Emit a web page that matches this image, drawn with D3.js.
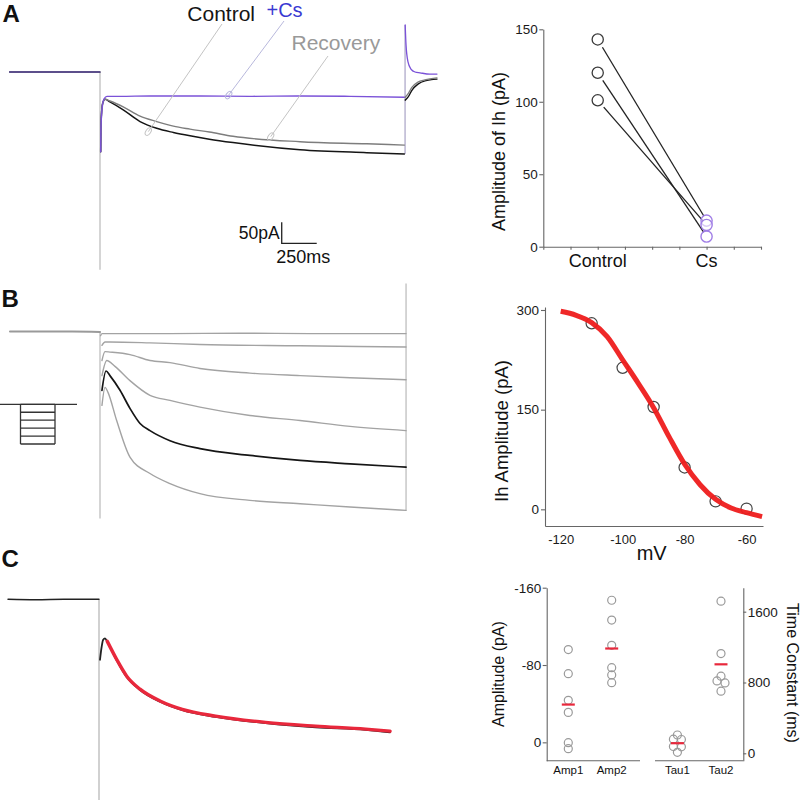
<!DOCTYPE html>
<html><head><meta charset="utf-8">
<script src="https://cdn.jsdelivr.net/npm/d3@7"></script>
<style>
body{margin:0;background:#fff}
svg{display:block}
text{font-family:"Liberation Sans",Arial,Helvetica,sans-serif}
</style>
</head><body>
<svg id="c" width="800" height="800"></svg>
<script>
// ================= DATA =================
// Panel A traces: [time (ms from step onset), current (pA, relative to holding)]
const aBaseline = [[-646,0],[-450,0],[-250,0],[0,0]];
const aControl  = [[5,-190],[7,-126],[18,-76],[36,-65],[71,-71],[166,-90],[286,-118],[405,-134],[524,-144],[643,-152],[781,-160],[950,-168],[1429,-185],[1905,-192],[2174,-195]];
const aRecovery = [[5,-190],[7,-126],[18,-76],[36,-65],[71,-69],[166,-83],[286,-105],[405,-118],[524,-129],[643,-136],[781,-143],[950,-153],[1429,-166],[1905,-171],[2174,-174]];
const aCs       = [[5,-190],[7,-129],[18,-79],[29,-64],[50,-58],[143,-58],[357,-57],[714,-57],[1071,-58],[1429,-57],[1786,-58],[2174,-60]];
const aControlOff  = [[2180,-67],[2200,-60],[2229,-43],[2271,-29],[2321,-21],[2407,-17]];
const aRecoveryOff = [[2180,-60],[2200,-52],[2229,-36],[2271,-24],[2321,-19],[2407,-14]];
const aCsOff       = [[2180,112],[2186,64],[2200,24],[2221,7],[2250,0],[2286,-2],[2357,-5],[2407,-5]];
const aTransients  = [[0,0,-471],[2179,-195,112]];   // [time, from, to]
const scaleBarPA = 50, scaleBarMS = 250;

// Panel A right: amplitude of Ih
const ampCategories = ["Control","Cs"];
const ampControl = [143,120,101];
const ampCs      = [18,7,15];
const ampTicks   = [0,50,100,150];

// Panel B traces
const bBaseline = [[-643,0],[-400,0],[-200,0],[0,-1]];
const bTraces = [
  [[4,-10],[14,-5],[500,-5],[1000,-4],[1500,-5],[2186,-5]],
  [[14,-33],[36,-25],[71,-25],[357,-27],[714,-31],[1429,-34],[2186,-37]],
  [[14,-69],[36,-48],[71,-49],[214,-55],[357,-69],[500,-74],[714,-88],[1071,-99],[1429,-105],[1786,-110],[2186,-115]],
  [[14,-105],[48,-69],[107,-83],[214,-117],[357,-152],[500,-164],[714,-180],[1071,-200],[1429,-212],[1786,-226],[2186,-236]],
  [[14,-140],[43,-94],[71,-105],[143,-140],[214,-183],[286,-219],[357,-236],[500,-260],[714,-279],[1071,-295],[1429,-307],[1786,-315],[2186,-323]],
  [[14,-176],[36,-133],[57,-145],[119,-212],[214,-299],[357,-338],[500,-362],[714,-386],[1071,-402],[1429,-410],[1786,-418],[2186,-426]]
];
const bBlackIndex = 4;
const bTransients = [[0,0,-445],[2186,114,-426]];
const stepVoltages = [-60,-70,-80,-90,-100,-110];

// Panel B right: I-V
const ivVoltage = [-110,-100,-90,-80,-70,-60];
const ivAmp     = [280,213,154,63,12,1];
const ivFitV    = [-120,-115,-110,-105,-100,-95,-90,-85,-80,-75,-70,-65,-60,-55];
const ivFitI    = [298,292,281,260,225,190,153,109,68,37,15,2,-5,-11];
const ivXTicks  = [-120,-100,-80,-60];
const ivYTicks  = [0,150,300];

// Panel C traces
const cBaseline = [[-650,0],[-450,-1],[-250,0],[0,0]];
const cTrace = [[7,-144],[19,-113],[29,-97],[43,-93],[59,-101],[126,-145],[198,-185],[293,-216],[436,-244],[595,-264],[833,-280],[1190,-295],[1548,-305],[1905,-311],[2079,-317]];
const cFit   = [[59,-100],[126,-143],[198,-183],[293,-214],[436,-242],[595,-262],[833,-278],[1190,-293],[1548,-302],[1905,-309],[2079,-314]];

// Panel C right: kinetics
const kinCategories = ["Amp1","Amp2","Tau1","Tau2"];
const amp1 = [-96,-71,-43.5,-31,0.4,6.6];
const amp2 = [-147,-126.5,-100.4,-77.2,-69.7,-61.7];
const tau1 = [207,160,156,77,73,11];
const tau2 = [1719,1127,871,818,795,702];
const kinAmpTicks = [-160,-80,0];
const kinTauTicks = [0,800,1600];

// ================= DRAWING =================
const svg = d3.select("#c");
svg.append("rect").attr("width",800).attr("height",800).attr("fill","#fff");

const COL = {black:"#151515", gray:"#8a8a8a", lgray:"#b9b9b9", purple:"#7b52d8", cs:"#3a3ad2", csCircle:"#a07ee6", red:"#ee1c1c", axis:"#666"};

function trace(g, data, x, y, color, w){
  return g.append("path").datum(data)
    .attr("d", d3.line().x(d=>x(d[0])).y(d=>y(d[1])).curve(d3.curveMonotoneX))
    .attr("fill","none").attr("stroke",color).attr("stroke-width",w)
    .attr("stroke-linejoin","round").attr("stroke-linecap","round");
}
function vline(g, x, y0, y1, color, w){
  g.append("line").attr("x1",x).attr("x2",x).attr("y1",y0).attr("y2",y1)
   .attr("stroke",color).attr("stroke-width",w);
}
function label(g, x, y, txt, size, opts={}){
  const t = g.append("text").attr("x",x).attr("y",y).text(txt).attr("font-size",size)
    .attr("fill",opts.fill||"#111").attr("text-anchor",opts.anchor||"start");
  if(opts.weight) t.attr("font-weight",opts.weight);
  if(opts.rotate!==undefined) t.attr("transform",`rotate(${opts.rotate},${x},${y})`);
  return t;
}
function styleAxis(g, size){
  g.attr("font-family",null).attr("font-size",null);
  g.selectAll("path,line").attr("stroke",COL.axis).attr("stroke-width",1.1);
  g.selectAll("text").attr("font-size",size).attr("fill","#1a1a1a");
}
const plain = d => String(d).replace("−","-");

// Panel letters
label(svg, 2.5, 21.7, "A", 24, {weight:"bold"});
label(svg, 1.5, 306.7, "B", 24, {weight:"bold"});
label(svg, 1.5, 567, "C", 24, {weight:"bold"});

// ---------- Panel A left ----------
{
  const g = svg.append("g");
  const x = d3.scaleLinear().domain([0,250]).range([100,135]);
  const y = d3.scaleLinear().domain([0,-50]).range([72,93]);
  vline(g, x(aTransients[0][0]), y(aTransients[0][1]), y(aTransients[0][2]), COL.lgray, 1.2);
  vline(g, x(aTransients[1][0]), y(aTransients[1][1]), y(aTransients[1][2]), "#a9a3c6", 1.2);
  trace(g, aBaseline, x, y, COL.black, 1.4);
  trace(g, aBaseline, x, y, "#6a50c8", 1.2);
  trace(g, aControl, x, y, COL.black, 1.5);
  trace(g, aRecovery, x, y, "#7d7d7d", 1.4);
  trace(g, aCs, x, y, COL.purple, 1.4);
  trace(g, aControlOff, x, y, COL.black, 1.4);
  trace(g, aRecoveryOff, x, y, "#7d7d7d", 1.3);
  trace(g, aCsOff, x, y, COL.purple, 1.3);

  // labels + leaders
  label(g, 255, 21, "Control", 21, {anchor:"end", fill:"#151515"});
  label(g, 266.5, 17, "+Cs", 20, {fill:COL.cs});
  label(g, 291.5, 50, "Recovery", 21, {fill:"#999"});
  const leaders = [
    {from:[222,24], to:[345,-142], color:"#c4c4c4"},
    {from:[284,21], to:[919,-55], color:"#b8b8dc"},
    {from:[328,56], to:[1219,-154], color:"#c4c4c4"}
  ];
  leaders.forEach(l=>{
    const ex = x(l.to[0]), ey = y(l.to[1]);
    g.append("line").attr("x1",l.from[0]).attr("y1",l.from[1]).attr("x2",ex).attr("y2",ey)
      .attr("stroke",l.color).attr("stroke-width",1);
    const ang = Math.atan2(ey-l.from[1], ex-l.from[0])*180/Math.PI;
    g.append("ellipse").attr("cx",ex).attr("cy",ey).attr("rx",4.2).attr("ry",2.4)
      .attr("transform",`rotate(${ang},${ex},${ey})`)
      .attr("fill","none").attr("stroke",l.color).attr("stroke-width",1);
  });

  // scale bar
  const sbT = 1298, sbI = -408;
  g.append("path").attr("d",`M${x(sbT)},${y(sbI+scaleBarPA)}V${y(sbI)}H${x(sbT+scaleBarMS)}`)
    .attr("fill","none").attr("stroke","#222").attr("stroke-width",1.3);
  label(g, x(sbT)-2, y(sbI)-4.5, scaleBarPA+"pA", 17.5, {anchor:"end"});
  label(g, x(sbT)-5.5, y(sbI)+19.5, scaleBarMS+"ms", 18);
}

// ---------- Panel A right ----------
{
  const g = svg.append("g");
  const x = d3.scaleLinear().domain([-1,7]).range([543.3,761]);
  const y = d3.scaleLinear().domain([0,150]).range([246.7,29.3]);
  const pos = {"Control":1, "Cs":5};
  const ax = g.append("g").attr("transform","translate(0,246.7)")
    .call(d3.axisBottom(x).tickValues(d3.range(-1,8)).tickSize(3).tickSizeOuter(0).tickFormat(()=>""));
  styleAxis(ax, 13);
  const ay = g.append("g").attr("transform","translate(543.3,0)")
    .call(d3.axisLeft(y).tickValues(ampTicks).tickSize(4).tickSizeOuter(0).tickPadding(1.5));
  styleAxis(ay, 13.5);
  ampCategories.forEach(c=> label(g, x(pos[c]), 266.5, c, 18, {anchor:"middle"}));
  label(g, 504.5, 151.5, "Amplitude of Ih (pA)", 18, {anchor:"middle", rotate:-90});

  const r = 5.6;
  ampControl.forEach((v,i)=>{
    const x1 = x(pos.Control), y1 = y(v), x2 = x(pos.Cs), y2 = y(ampCs[i]);
    const L = Math.hypot(x2-x1,y2-y1), ux=(x2-x1)/L, uy=(y2-y1)/L;
    g.append("line").attr("x1",x1+ux*(r+3.5)).attr("y1",y1+uy*(r+3.5))
      .attr("x2",x2-ux*(r-0.5)).attr("y2",y2-uy*(r-0.5))
      .attr("stroke","#222").attr("stroke-width",1.3);
  });
  g.selectAll(".cc").data(ampControl).join("circle").attr("cx",x(pos.Control)).attr("cy",d=>y(d)).attr("r",r)
    .attr("fill","#fff").attr("stroke","#3a3a3a").attr("stroke-width",1.3);
  g.selectAll(".cs").data(ampCs).join("circle").attr("cx",x(pos.Cs)).attr("cy",d=>y(d)).attr("r",r)
    .attr("fill","#fff").attr("fill-opacity",0.6).attr("stroke",COL.csCircle).attr("stroke-width",1.4);
}

// ---------- Panel B left ----------
{
  const g = svg.append("g");
  const x = d3.scaleLinear().domain([0,250]).range([100,135]);
  const y = d3.scaleLinear().domain([0,-50]).range([331.5,352.5]);
  vline(g, x(bTransients[0][0]), y(bTransients[0][1]), y(bTransients[0][2]), COL.lgray, 1.2);
  vline(g, x(bTransients[1][0]), y(bTransients[1][1]), y(bTransients[1][2]), COL.lgray, 1.2);
  trace(g, bBaseline, x, y, "#9a9a9a", 2);
  bTraces.forEach((d,i)=>{ if(i!==bBlackIndex) trace(g, d, x, y, "#a3a3a3", 1.4); });
  trace(g, bTraces[bBlackIndex], x, y, COL.black, 1.7);

  // step protocol icon
  const yi = d3.scaleLinear().domain([stepVoltages[0], stepVoltages[stepVoltages.length-1]]).range([404.3,444]);
  g.append("line").attr("x1",0).attr("x2",77).attr("y1",yi(stepVoltages[0])).attr("y2",yi(stepVoltages[0]))
    .attr("stroke","#333").attr("stroke-width",1.3);
  stepVoltages.forEach(v=> g.append("line").attr("x1",20.5).attr("x2",55).attr("y1",yi(v)).attr("y2",yi(v))
    .attr("stroke","#333").attr("stroke-width",1.3));
  [20.5,55].forEach(xx=> g.append("line").attr("x1",xx).attr("x2",xx)
    .attr("y1",yi(stepVoltages[0])).attr("y2",yi(stepVoltages[stepVoltages.length-1]))
    .attr("stroke","#333").attr("stroke-width",1.3));
}

// ---------- Panel B right ----------
{
  const g = svg.append("g");
  const x = d3.scaleLinear().domain([-125.06,-54.7]).range([545,763]);
  const y = d3.scaleLinear().domain([-25.1,304.5]).range([526,307]);
  const ax = g.append("g").attr("transform","translate(0,526)")
    .call(d3.axisBottom(x).tickValues(ivXTicks).tickSize(0).tickSizeOuter(0).tickPadding(8.5).tickFormat(plain));
  styleAxis(ax, 13);
  const ay = g.append("g").attr("transform","translate(545,0)")
    .call(d3.axisLeft(y).tickValues(ivYTicks).tickSize(4).tickSizeOuter(0).tickPadding(2).tickFormat(plain));
  styleAxis(ay, 13.5);
  label(g, 651.7, 560, "mV", 20, {anchor:"middle"});
  label(g, 508, 431, "Ih Amplitude (pA)", 18.5, {anchor:"middle", rotate:-90});
  g.selectAll(".pt").data(ivVoltage).join("circle").attr("cx",d=>x(d)).attr("cy",(d,i)=>y(ivAmp[i])).attr("r",5.6)
    .attr("fill","none").attr("stroke","#444").attr("stroke-width",1.2);
  g.append("path").datum(ivFitV.map((v,i)=>[v,ivFitI[i]]))
    .attr("d", d3.line().x(d=>x(d[0])).y(d=>y(d[1])).curve(d3.curveMonotoneX))
    .attr("fill","none").attr("stroke",COL.red).attr("stroke-width",5).attr("stroke-opacity",0.95);
}

// ---------- Panel C left ----------
{
  const g = svg.append("g");
  const x = d3.scaleLinear().domain([0,250]).range([99,134]);
  const y = d3.scaleLinear().domain([0,-50]).range([599.3,620.3]);
  vline(g, x(0), y(0), 800, COL.lgray, 1.3);
  trace(g, cBaseline, x, y, "#222", 1.4);
  trace(g, cTrace, x, y, "#222", 1.8);
  trace(g, cFit, x, y, "#e8283c", 3.4);
}

// ---------- Panel C right ----------
{
  const g = svg.append("g");
  const yL = d3.scaleLinear().domain([-160,19.0]).range([587.7,760.7]);
  const yR = d3.scaleLinear().domain([-83.6,1871]).range([760.7,587.7]);
  const xAmp = d3.scalePoint().domain(kinCategories.slice(0,2)).range([568.3,611.7]);
  const xTau = d3.scalePoint().domain(kinCategories.slice(2,4)).range([677.4,721]);
  const axL = g.append("g").attr("transform","translate(546.7,0)")
    .call(d3.axisLeft(yL).tickValues(kinAmpTicks).tickSize(4).tickSizeOuter(0).tickPadding(1.5).tickFormat(plain));
  styleAxis(axL, 13.5);
  const axR = g.append("g").attr("transform","translate(743.3,0)")
    .call(d3.axisRight(yR).tickValues(kinTauTicks).tickSize(3).tickSizeOuter(0).tickPadding(1.5).tickFormat(plain));
  styleAxis(axR, 13.5);
  g.append("line").attr("x1",546.7).attr("x2",640).attr("y1",760.7).attr("y2",760.7).attr("stroke",COL.axis).attr("stroke-width",1.1);
  g.append("line").attr("x1",655).attr("x2",743.3).attr("y1",760.7).attr("y2",760.7).attr("stroke",COL.axis).attr("stroke-width",1.1);
  label(g, 503.5, 674, "Amplitude (pA)", 16, {anchor:"middle", rotate:-90});
  label(g, 786.5, 673, "Time Constant (ms)", 16, {anchor:"middle", rotate:90});
  kinCategories.forEach((c,i)=>{
    const xx = i<2 ? xAmp(c) : xTau(c);
    label(g, xx, 773.5, c, 11.5, {anchor:"middle"});
  });
  const groups = [
    {vals:amp1, x:xAmp("Amp1"), y:yL},
    {vals:amp2, x:xAmp("Amp2"), y:yL},
    {vals:tau1, x:xTau("Tau1"), y:yR},
    {vals:tau2, x:xTau("Tau2"), y:yR}
  ];
  const r = 4;
  groups.forEach(gr=>{
    const pts = gr.vals.map(v=>({py:gr.y(v)})).sort((a,b)=>a.py-b.py);
    // spread near-coincident points sideways
    for(let i=0;i<pts.length;i++){
      pts[i].dx = 0;
      if(i>0 && Math.abs(pts[i].py-pts[i-1].py)<3 && pts[i-1].dx===0){
        pts[i-1].dx = -r; pts[i].dx = r;
      }
    }
    g.selectAll(null).data(pts).join("circle").attr("cx",d=>gr.x+d.dx).attr("cy",d=>d.py).attr("r",r)
      .attr("fill","none").attr("stroke","#9a9a9a").attr("stroke-width",1.2);
    const m = d3.mean(gr.vals);
    g.append("line").attr("x1",gr.x-6.5).attr("x2",gr.x+6.5).attr("y1",gr.y(m)).attr("y2",gr.y(m))
      .attr("stroke","#e8283c").attr("stroke-width",2.2);
  });
}
</script>
</body></html>
